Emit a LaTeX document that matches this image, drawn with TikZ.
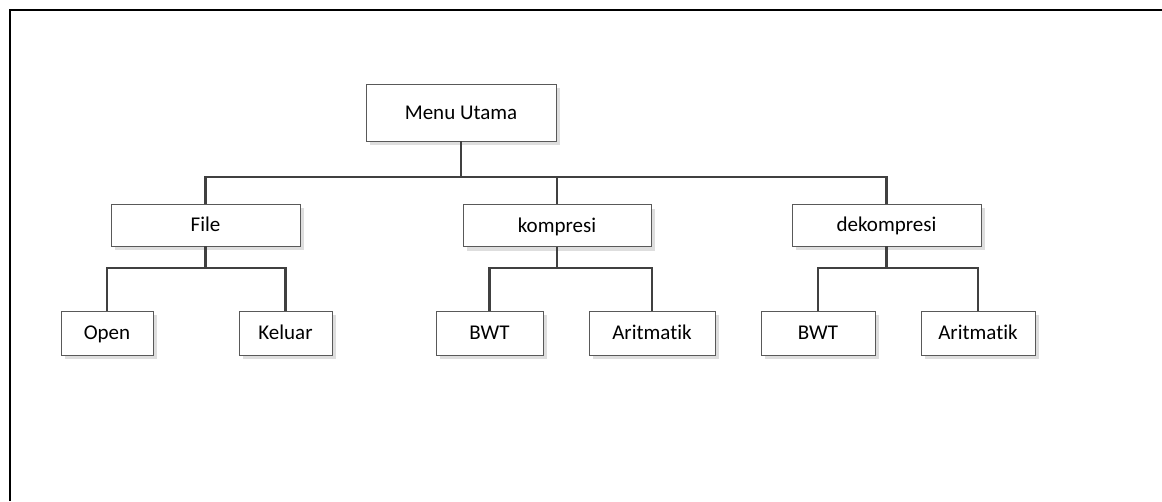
\documentclass[tikz,border=0pt]{standalone}
\usepackage{fontspec}
\setmainfont{Carlito}[Ligatures=NoCommon]
\usetikzlibrary{shadows}
\tikzset{
box/.style={draw=black!65, line width=0.9pt, fill=white, font=\fontsize{21}{24}\selectfont, inner sep=0pt,
 text height=15pt, text depth=1.5pt,
 drop shadow={shadow xshift=4pt, shadow yshift=-4pt, fill=black!13, opacity=1}},
link/.style={draw=black!75, line width=2.8pt}
}
\begin{document}
\begin{tikzpicture}[x=1pt,y=-1pt]
\useasboundingbox (0,0) rectangle (1162,501);
\draw[line width=2.2pt] (10,501)--(10,10)--(1162,10);
\node[box, minimum width=190, minimum height=57] (menu) at (461,112.5) {Menu Utama};
\node[box, minimum width=189, minimum height=42] (file) at (205.5,225) {File};
\node[box, minimum width=188, minimum height=42] (komp) at (557,225.5) {kompresi};
\node[box, minimum width=189, minimum height=42] (dekomp) at (886.5,225) {dekompresi};
\node[box, minimum width=92, minimum height=44] (open) at (107,333) {Open};
\node[box, minimum width=93, minimum height=44] (keluar) at (285.5,333) {Keluar};
\node[box, minimum width=107, minimum height=44] (bwta) at (489.5,333) {BWT};
\node[box, minimum width=126, minimum height=44] (arita) at (652,333) {Aritmatik};
\node[box, minimum width=114, minimum height=44] (bwtb) at (818,333) {BWT};
\node[box, minimum width=114, minimum height=44] (aritb) at (978,333) {Aritmatik};
\coordinate (bus) at (0,177);
\coordinate (subbus) at (0,268);
\foreach \c in {file,komp,dekomp}
\draw[link] (menu.south) -- (menu.south |- bus) -| (\c.north);
\foreach \p/\c in {file/open,file/keluar,komp/bwta,komp/arita,dekomp/bwtb,dekomp/aritb}
\draw[link] (\p.south) -- (\p.south |- subbus) -| (\c.north);
\end{tikzpicture}
\end{document}
